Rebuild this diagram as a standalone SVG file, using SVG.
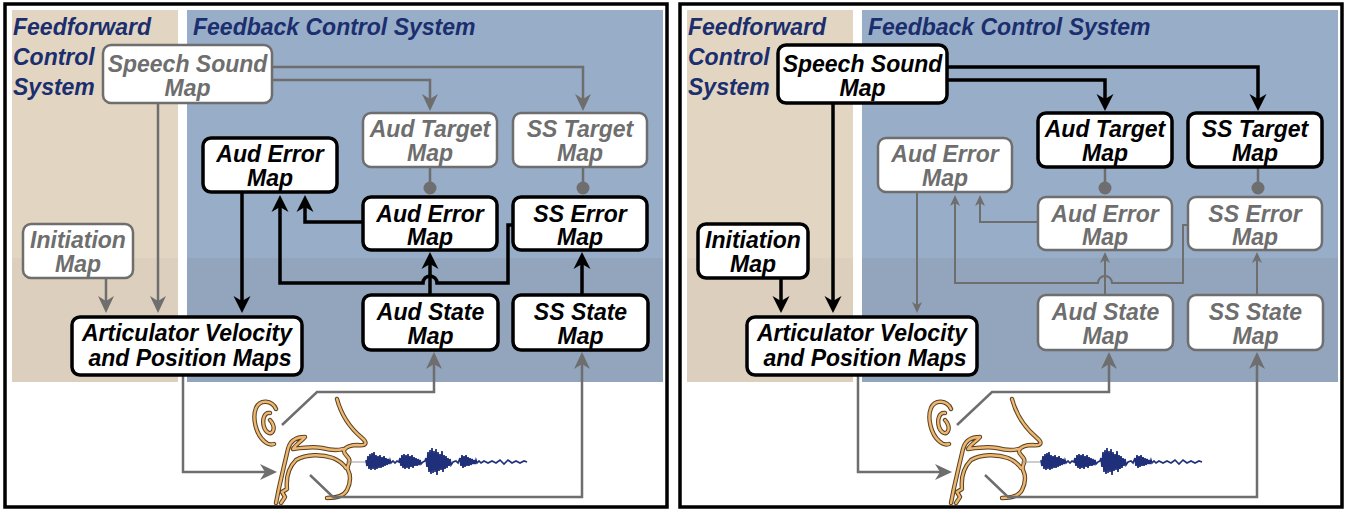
<svg xmlns="http://www.w3.org/2000/svg" xmlns:xlink="http://www.w3.org/1999/xlink" width="1350" height="510" viewBox="0 0 1350 510">
<style>
.ff{fill:#e2d6c2}.ff2{fill:#ddcfbd}.fb{fill:#98adc8}.fb2{fill:#93a4bd}
.frame{fill:none;stroke:#000;stroke-width:3.5}
text{font-family:"Liberation Sans",Arial,sans-serif;font-weight:bold;font-style:italic;font-size:23px;text-anchor:middle}
.title{fill:#1b2e6e;text-anchor:start}
.nb rect{fill:#fff;stroke:#000;stroke-width:3.5}
.nb text{fill:#000}
.ng rect{fill:#fff;stroke:#6e6e6e;stroke-width:2.5}
.ng text{fill:#6e6e6e}
.cb{fill:none;stroke:#000;stroke-width:3.5;marker-end:url(#ab)}
.cg{fill:none;stroke:#6e6e6e;stroke-width:2.5;marker-end:url(#ag)}
.cgt{fill:none;stroke:#6e6e6e;stroke-width:2;marker-end:url(#ags)}
.dl{fill:none;stroke:#6e6e6e;stroke-width:2.5}
.dot{fill:#6e6e6e}
.hd{fill:none;stroke:#5a4020;stroke-width:4.4;stroke-linecap:round;stroke-linejoin:round}
.hl{fill:none;stroke:#ebb772;stroke-width:2.4;stroke-linecap:round;stroke-linejoin:round}
.wave{fill:none;stroke:#1f2f7a;stroke-width:1.7}
.wl{fill:none;stroke:#9a9a9a;stroke-width:1}
</style>
<defs>
<marker id="ab" viewBox="-8 -9 19 18" refX="0" refY="0" markerWidth="19" markerHeight="18" markerUnits="userSpaceOnUse" orient="auto"><path d="M10,0 L-7,-8.5 L-2,0 L-7,8.5 Z" fill="#000"/></marker>
<marker id="ag" viewBox="-8 -9 19 18" refX="0" refY="0" markerWidth="19" markerHeight="18" markerUnits="userSpaceOnUse" orient="auto"><path d="M10,0 L-7,-8 L-2,0 L-7,8 Z" fill="#6e6e6e"/></marker>
<marker id="ags" viewBox="-7 -6 13 12" refX="0" refY="0" markerWidth="13" markerHeight="12" markerUnits="userSpaceOnUse" orient="auto"><path d="M5,0 L-6,-5 L-3,0 L-6,5 Z" fill="#6e6e6e"/></marker>
<path id="headp" d="M276,409 C272,400 260,399 256,408 C252,418 256,434 264,441 C267,444 271,445 274,444 M270,413 C264,412 262,420 264,427 C266,433 271,435 273,431 C275,427 272,422 270,420 M337,399 C341,414 350,428 362,438 C368,443 366,446 358,445 C352,445 346,447 344,450 C343,454 348,456 349,459 C351,463 346,466 348,470 C351,476 350,484 347,490 C344,496 336,498 327,498 M276,503 L279,488 L284,466 L288,449 C290,441 296,437 305,437 C302,441 296,444 293,449 C300,448 312,446 322,448 C330,450 336,451 343,449 M281,503 L285,497 L282,492 L287,489 C286,479 288,468 296,460 C306,454 322,454 333,458 C340,461 344,465 346,468"/>
<g id="sound">
<use href="#headp" class="hd"/>
<use href="#headp" class="hl"/>
<path class="wl" d="M346,462 L366,462"/>
<path class="wave" d="M366,460 367,466 368,456 369,469 370,454 371,470 372,453 373,469 374,452 375,470 376,455 377,469 378,456 379,468 380,455 381,468 382,457 383,467 384,456 385,466 386,458 387,465 388,459 389,464 390,460 391,463 393,461 395,463 397,461 399,462 400,458 401,466 402,455 403,468 404,454 405,469 406,455 407,468 408,454 409,469 410,456 411,467 412,455 413,468 414,457 415,466 416,458 417,466 418,459 419,465 420,460 421,464 423,462 425,461 426,458 427,467 428,452 429,472 430,450 431,474 432,448 433,473 434,451 435,472 436,449 437,475 438,452 439,471 440,454 441,470 442,451 443,472 444,455 445,469 446,456 447,468 448,458 449,466 450,459 451,465 453,462 456,461 458,463 460,458 461,466 462,455 463,468 464,456 465,467 466,455 467,466 468,457 469,466 470,458 471,465 472,459 473,464 474,460 475,464 476,460 477,463 479,461 481,463 484,461 488,463 492,461 496,463 500,460 504,464 508,460 512,463 516,461 520,463 524,461 527,462"/>
</g>
</defs>

<g id="left-panel">
<g id="L-background">
<rect class="ff" x="12" y="10" width="166" height="248"/>
<rect class="ff2" x="12" y="258" width="166" height="124"/>
<rect class="fb" x="187" y="10" width="476" height="248"/>
<rect class="fb2" x="187" y="258" width="476" height="124"/>
<rect class="frame" x="5" y="4" width="662" height="503"/>
<text class="title" x="13" y="35">Feedforward</text>
<text class="title" x="13" y="65">Control</text>
<text class="title" x="13" y="95">System</text>
<text class="title" x="193" y="35">Feedback Control System</text>
</g>
<use href="#sound"/>
<g id="L-connectors">
<path class="cg" d="M272,67 L583,67 L583,101"/>
<path class="cg" d="M272,80 L430,80 L430,101"/>
<path class="cg" d="M158,103 L158,303"/>
<path class="cg" d="M106,278 L106,303"/>
<path class="cb" d="M242,192 L242,303"/>
<path class="cb" d="M363,222 L305,222 L305,205"/>
<path class="cb" d="M513,225 L508,225 L508,283 L437,283 A7,7 0 0 0 423,283 L280,283 L280,205"/>
<path class="cb" d="M430,295 L430,262"/>
<path class="cb" d="M582,295 L582,262"/>
<path class="dl" d="M430,167 L430,188 M583,167 L583,188"/>
<circle class="dot" cx="430" cy="188" r="6.5"/>
<circle class="dot" cx="583" cy="188" r="6.5"/>
<path class="cg" d="M183,375 L183,472 L267,472"/>
<path class="cg" d="M282,425 L317,392 L434,392 L434,362"/>
<path class="cg" d="M310,475 L333,497 L582,497 L582,362"/>
</g>
<g id="L-speech-sound" class="ng"><rect x="103" y="45" width="169" height="58" rx="8"/><text x="187.5" y="72">Speech Sound</text><text x="187.5" y="96">Map</text></g>
<g id="L-aud-target" class="ng"><rect x="363" y="113" width="134" height="54" rx="8"/><text x="430" y="137">Aud Target</text><text x="430" y="161">Map</text></g>
<g id="L-ss-target" class="ng"><rect x="513" y="113" width="134" height="54" rx="8"/><text x="580" y="137">SS Target</text><text x="580" y="161">Map</text></g>
<g id="L-aud-error-1" class="nb"><rect x="203" y="138" width="134" height="54" rx="8"/><text x="270" y="162">Aud Error</text><text x="270" y="186">Map</text></g>
<g id="L-aud-error-2" class="nb"><rect x="363" y="197" width="134" height="53" rx="8"/><text x="430" y="221.5">Aud Error</text><text x="430" y="245">Map</text></g>
<g id="L-ss-error" class="nb"><rect x="513" y="197" width="134" height="53" rx="8"/><text x="580" y="221.5">SS Error</text><text x="580" y="245">Map</text></g>
<g id="L-initiation" class="ng"><rect x="23" y="224" width="110" height="54" rx="8"/><text x="78" y="247.5">Initiation</text><text x="78" y="271.5">Map</text></g>
<g id="L-aud-state" class="nb"><rect x="363" y="295" width="135" height="55" rx="8"/><text x="430.5" y="319.5">Aud State</text><text x="430.5" y="343.5">Map</text></g>
<g id="L-ss-state" class="nb"><rect x="513" y="295" width="135" height="55" rx="8"/><text x="580.5" y="319.5">SS State</text><text x="580.5" y="343.5">Map</text></g>
<g id="L-articulator" class="nb"><rect x="72" y="317" width="230" height="58" rx="8"/><text x="187" y="341">Articulator Velocity</text><text x="190" y="365.5">and Position Maps</text></g>
</g>

<g id="right-panel" transform="translate(675,0)">
<g id="R-background">
<rect class="ff" x="12" y="10" width="166" height="248"/>
<rect class="ff2" x="12" y="258" width="166" height="124"/>
<rect class="fb" x="187" y="10" width="476" height="248"/>
<rect class="fb2" x="187" y="258" width="476" height="124"/>
<rect class="frame" x="5" y="4" width="662" height="503"/>
<text class="title" x="13" y="35">Feedforward</text>
<text class="title" x="13" y="65">Control</text>
<text class="title" x="13" y="95">System</text>
<text class="title" x="193" y="35">Feedback Control System</text>
</g>
<use href="#sound"/>
<g id="R-connectors">
<path class="cb" d="M272,67 L583,67 L583,101"/>
<path class="cb" d="M272,80 L430,80 L430,101"/>
<path class="cb" d="M158,103 L158,303"/>
<path class="cb" d="M106,278 L106,303"/>
<path class="cgt" d="M242,192 L242,308"/>
<path class="cgt" d="M363,222 L305,222 L305,200"/>
<path class="cgt" d="M513,225 L508,225 L508,283 L437,283 A7,7 0 0 0 423,283 L280,283 L280,200"/>
<path class="cgt" d="M430,295 L430,257"/>
<path class="cgt" d="M582,295 L582,257"/>
<path class="dl" d="M430,167 L430,188 M583,167 L583,188"/>
<circle class="dot" cx="430" cy="188" r="6.5"/>
<circle class="dot" cx="583" cy="188" r="6.5"/>
<path class="cg" d="M183,375 L183,472 L267,472"/>
<path class="cg" d="M282,425 L317,392 L434,392 L434,362"/>
<path class="cg" d="M310,475 L333,497 L582,497 L582,362"/>
</g>
<g id="R-speech-sound" class="nb"><rect x="103" y="45" width="169" height="58" rx="8"/><text x="187.5" y="72">Speech Sound</text><text x="187.5" y="96">Map</text></g>
<g id="R-aud-target" class="nb"><rect x="363" y="113" width="134" height="54" rx="8"/><text x="430" y="137">Aud Target</text><text x="430" y="161">Map</text></g>
<g id="R-ss-target" class="nb"><rect x="513" y="113" width="134" height="54" rx="8"/><text x="580" y="137">SS Target</text><text x="580" y="161">Map</text></g>
<g id="R-aud-error-1" class="ng"><rect x="203" y="138" width="134" height="54" rx="8"/><text x="270" y="162">Aud Error</text><text x="270" y="186">Map</text></g>
<g id="R-aud-error-2" class="ng"><rect x="363" y="197" width="134" height="53" rx="8"/><text x="430" y="221.5">Aud Error</text><text x="430" y="245">Map</text></g>
<g id="R-ss-error" class="ng"><rect x="513" y="197" width="134" height="53" rx="8"/><text x="580" y="221.5">SS Error</text><text x="580" y="245">Map</text></g>
<g id="R-initiation" class="nb"><rect x="23" y="224" width="110" height="54" rx="8"/><text x="78" y="247.5">Initiation</text><text x="78" y="271.5">Map</text></g>
<g id="R-aud-state" class="ng"><rect x="363" y="295" width="135" height="55" rx="8"/><text x="430.5" y="319.5">Aud State</text><text x="430.5" y="343.5">Map</text></g>
<g id="R-ss-state" class="ng"><rect x="513" y="295" width="135" height="55" rx="8"/><text x="580.5" y="319.5">SS State</text><text x="580.5" y="343.5">Map</text></g>
<g id="R-articulator" class="nb"><rect x="72" y="317" width="230" height="58" rx="8"/><text x="187" y="341">Articulator Velocity</text><text x="190" y="365.5">and Position Maps</text></g>
</g>
</svg>
